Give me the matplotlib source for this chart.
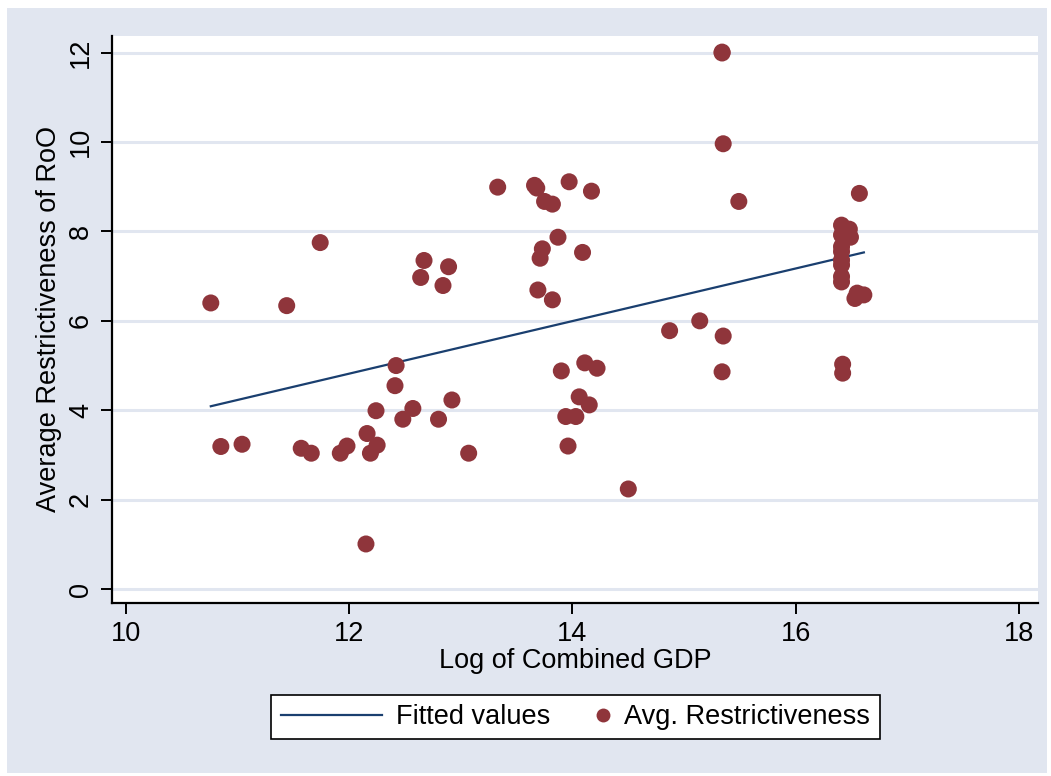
import numpy as np
import matplotlib
matplotlib.use("Agg")
from matplotlib import pyplot as plt
from matplotlib.patches import Rectangle
from matplotlib.lines import Line2D
from matplotlib.legend_handler import HandlerLine2D

plt.rcParams['font.family'] = ['Liberation Sans', 'DejaVu Sans']

# log combined GDP vs average restrictiveness of rules of origin
log_gdp = [10.76, 10.85, 11.04, 11.44, 11.57, 11.66, 11.74, 11.92, 11.98, 12.15,
           12.16, 12.19, 12.25, 12.24, 12.41, 12.42, 12.48, 12.57, 12.64, 12.67,
           12.80, 12.84, 12.89, 12.92, 13.07, 13.33, 13.66, 13.68, 13.69, 13.71,
           13.73, 13.75, 13.82, 13.82, 13.87, 13.90, 13.94, 13.96, 13.97, 14.03,
           14.06, 14.09, 14.11, 14.15, 14.17, 14.22, 14.50, 14.87, 15.14, 15.34,
           15.34, 15.35, 15.35, 15.34, 15.49, 16.41, 16.48, 16.49, 16.41, 16.41,
           16.41, 16.41, 16.41, 16.41, 16.41, 16.53, 16.61, 16.55, 16.57, 16.42,
           16.42]
avg_restr = [6.40, 3.19, 3.24, 6.34, 3.15, 3.04, 7.75, 3.04, 3.20, 1.01,
             3.48, 3.04, 3.22, 3.99, 4.55, 5.00, 3.80, 4.04, 6.97, 7.35,
             3.80, 6.79, 7.21, 4.23, 3.04, 8.99, 9.03, 8.97, 6.69, 7.40,
             7.61, 8.67, 8.61, 6.47, 7.87, 4.88, 3.86, 3.20, 9.11, 3.86,
             4.30, 7.53, 5.06, 4.12, 8.90, 4.94, 2.24, 5.78, 6.00, 11.99,
             12.01, 9.96, 5.66, 4.86, 8.67, 8.14, 8.05, 7.87, 7.92, 7.66,
             7.55, 7.36, 7.25, 6.99, 6.87, 6.50, 6.58, 6.62, 8.85, 5.03,
             4.83]

# fitted values at the ends of the GDP range
fit_x = [10.76, 16.61]
fit_y = [4.09, 7.53]

x_ticks = [10, 12, 14, 16, 18]
y_ticks = [0, 2, 4, 6, 8, 10, 12]

W, H = 1051, 776
bg = '#e1e6f0'
maroon = '#8f353b'
navy = '#1a3f6f'
fs = 19.5


class DotAtEnd(HandlerLine2D):
    # put the single marker at the right end of the handle box
    def get_xdata(self, legend, xdescent, ydescent, width, height, fontsize):
        x = [-xdescent + width - 0.3 * fontsize]
        return x, x


fig = plt.figure(figsize=(W / 100, H / 100), dpi=100, facecolor='white')
fig.patches.append(Rectangle((7 / W, 3 / H), 1 - 11 / W, 1 - 11 / H,
                             transform=fig.transFigure, facecolor=bg,
                             edgecolor='none', zorder=-10))

ax = fig.add_axes([112 / W, 1 - 603 / H, (1038 - 112) / W, (603 - 36) / H])
ax.set_facecolor('white')
ax.set_xlim(9.875, 18.17)
ax.set_ylim(-0.31, 12.37)

for s in ['top', 'right']:
    ax.spines[s].set_visible(False)
for s in ['left', 'bottom']:
    ax.spines[s].set_linewidth(1.6)
    ax.spines[s].set_color('black')

ax.set_yticks(y_ticks)
ax.set_xticks(x_ticks)
ax.yaxis.grid(True, color=bg, linewidth=2.2)
ax.set_axisbelow(True)
ax.tick_params(axis='both', direction='out', length=8, width=1.4,
               labelsize=fs, pad=5)
for lbl in ax.get_yticklabels():
    lbl.set_rotation(90)
    lbl.set_va('center')

ax.plot(fit_x, fit_y, color=navy, linewidth=1.6, zorder=3)
ax.scatter(log_gdp, avg_restr, s=150, color=maroon, edgecolors='none', zorder=4)

ax.set_xlabel('Log of Combined GDP', fontsize=fs, labelpad=1)
ax.set_ylabel('Average Restrictiveness of RoO', fontsize=fs, labelpad=4)

fit_handle = Line2D([], [], color=navy, linewidth=1.6)
dot_handle = Line2D([], [], color=maroon, marker='o', linestyle='none',
                    markersize=10, markeredgewidth=0)
leg = fig.legend([fit_handle, dot_handle], ['Fitted values', 'Avg. Restrictiveness'],
                 loc='center', bbox_to_anchor=(575.5 / W, 1 - 717 / H),
                 ncol=2, fontsize=fs, frameon=True, fancybox=False,
                 handlelength=3.75, columnspacing=-1.5, handletextpad=0.5,
                 borderpad=0.35, handler_map={dot_handle: DotAtEnd()})
leg.get_frame().set_edgecolor('black')
leg.get_frame().set_facecolor('white')
leg.get_frame().set_alpha(1)
leg.get_frame().set_linewidth(1.2)

fig.savefig('out.png', dpi=100, facecolor=fig.get_facecolor())
